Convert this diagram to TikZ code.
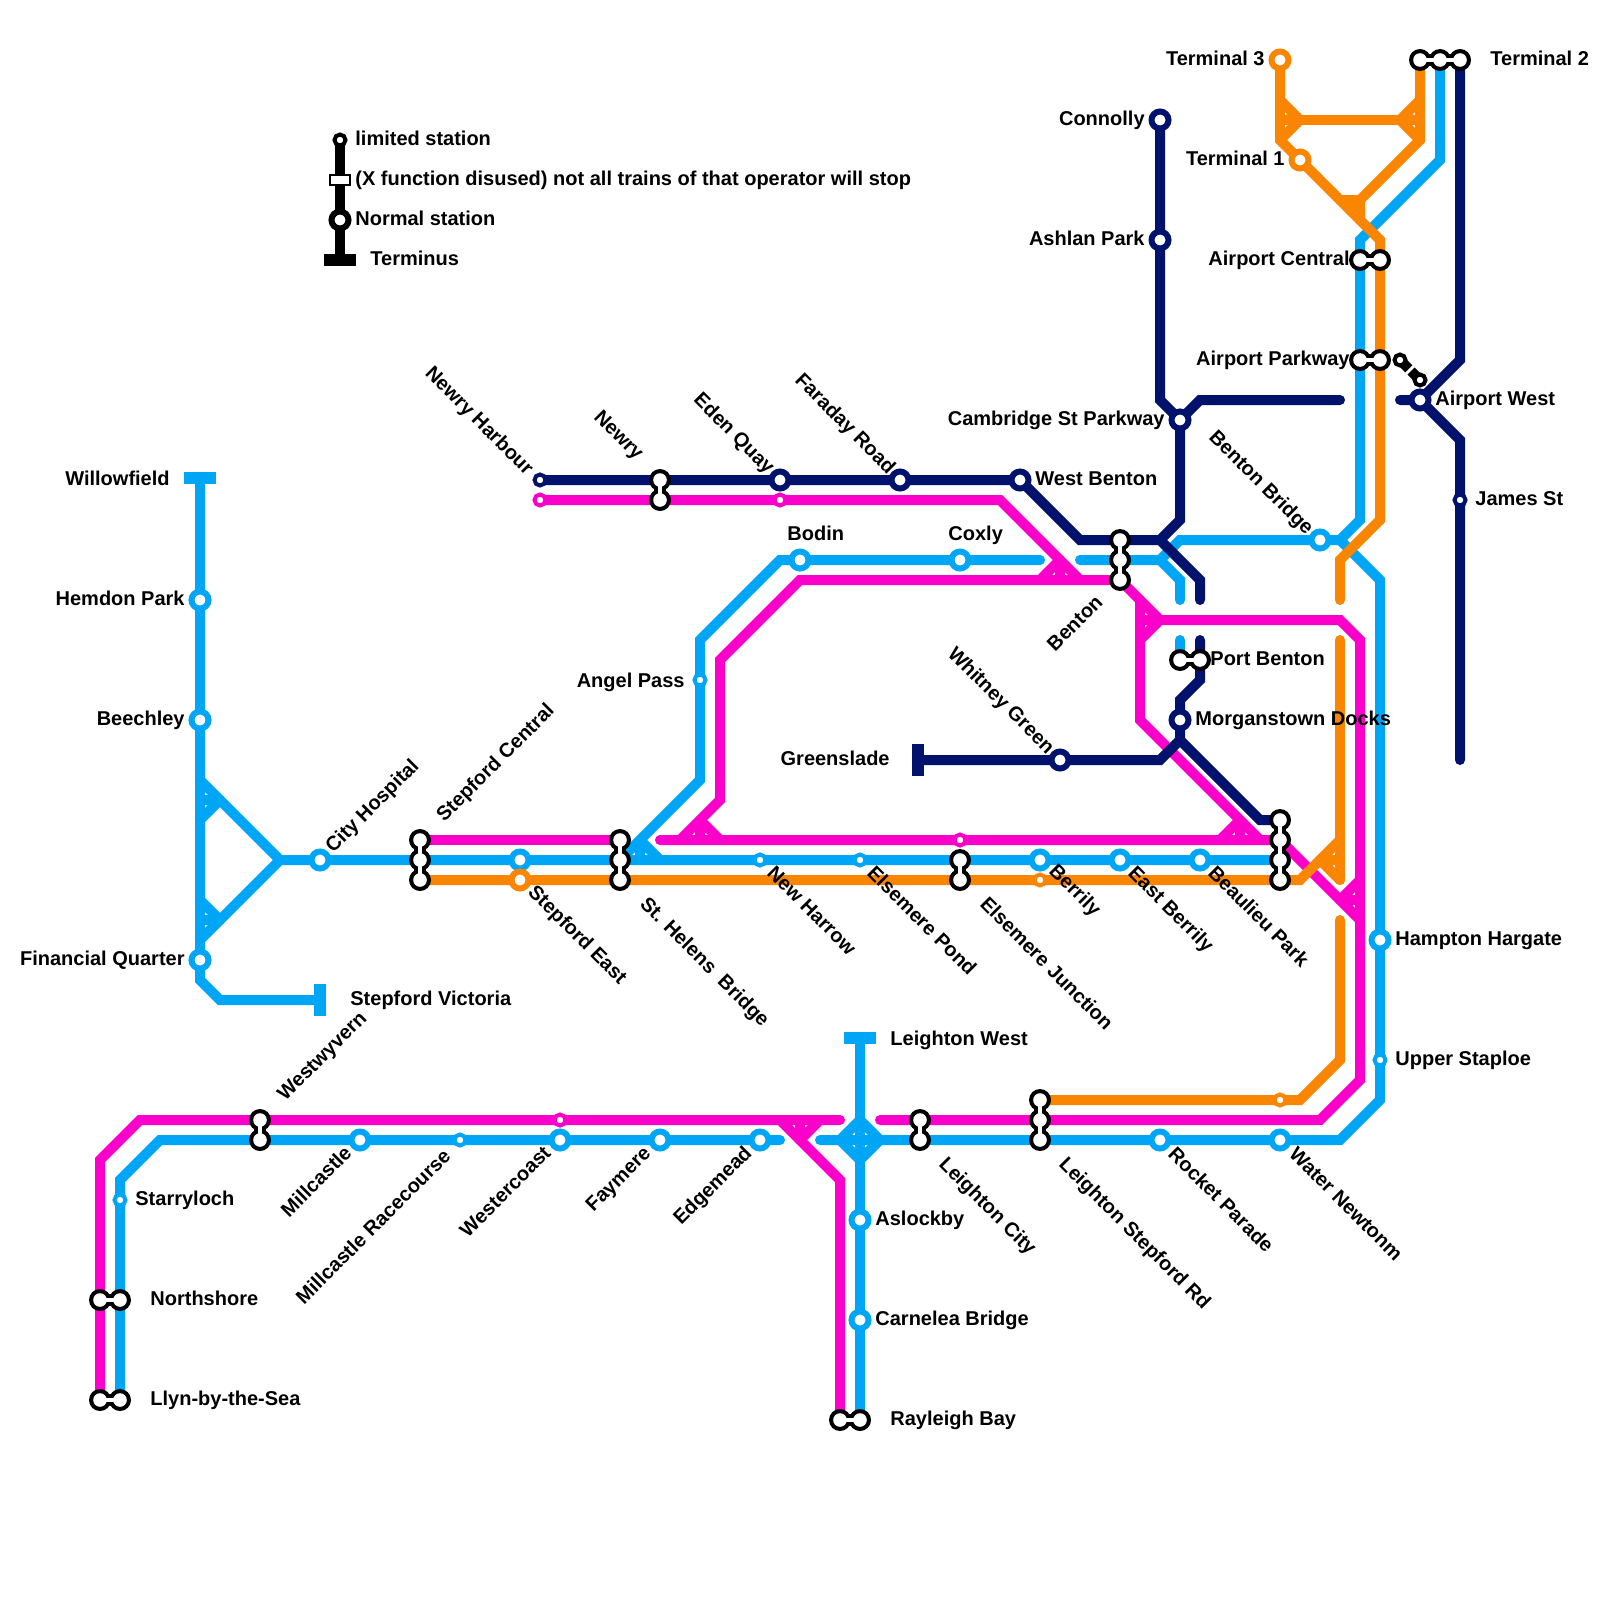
\documentclass[tikz,border=0pt]{standalone}
\usepackage{fontspec}
\setmainfont{Liberation Sans}
\definecolor{cblue}{HTML}{00A6F6}
\definecolor{cmag}{HTML}{FB00CB}
\definecolor{corg}{HTML}{F98500}
\definecolor{cnav}{HTML}{00126B}
\tikzset{
  route/.style={line width=5pt,line cap=round,line join=miter,miter limit=10},
  blueline/.style={route,cblue},
  magline/.style={route,cmag},
  orgline/.style={route,corg},
  navline/.style={route,cnav},
  big/.style={circle,draw=#1,fill=white,line width=3pt,minimum size=8.5pt,inner sep=0pt},
  small/.style={circle,draw=#1,fill=white,line width=2pt,minimum size=5.5pt,inner sep=0pt},
  bar/.style={fill=#1,draw=none,rectangle,inner sep=0pt},
  lb/.style={font=\fontsize{10}{12}\selectfont\bfseries,inner sep=0pt,text=black,text height=7.2pt,text depth=0pt},
  se/.style={lb,anchor=west,xshift=2pt,yshift=-1pt,rotate=-45},
  sw/.style={lb,anchor=east,rotate=-45},
  ne/.style={lb,anchor=west,xshift=1pt,yshift=1.5pt,rotate=45},
  ww/.style={lb,anchor=east,xshift=-2pt,yshift=-0.5pt,rotate=45},
  east/.style={lb,anchor=east},
  west/.style={lb,anchor=west},
}
\newcommand{\xchain}[1]{%
  \foreach \x/\y [remember=\x as \px (initially 0),remember=\y as \py (initially 0),count=\i] in {#1}{%
    \fill[black] (\x,\y) circle (5.5pt);
    \ifnum\i>1 \draw[black,line width=6pt] (\px,\py)--(\x,\y);\fi
  }%
  \foreach \x/\y [remember=\x as \px (initially 0),remember=\y as \py (initially 0),count=\i] in {#1}{%
    \fill[white] (\x,\y) circle (3.4pt);
    \ifnum\i>1 \draw[white,line width=2pt] (\px,\py)--(\x,\y);\fi
  }%
}
\begin{document}
\begin{tikzpicture}[x=0.5pt,y=-0.5pt]
\useasboundingbox (0,0) rectangle (1600,1600);
% blue
\draw[blueline] (200,480)--(200,980)--(220,1000)--(320,1000);
\draw[blueline] (1280,860)--(280,860)--(200,780);
\draw[blueline] (280,860)--(200,940);
\draw[blueline] (200,820)--(220,800) (200,800)--(220,800) (200,900)--(220,920) (200,920)--(220,920);
\draw[blueline] (1040,560)--(780,560)--(700,640)--(700,780)--(620,860);
\draw[blueline] (660,860)--(640,840) (640,840)--(640,860);
\draw[blueline] (1080,560)--(1160,560)--(1180,580)--(1180,600);
\draw[blueline] (1160,560)--(1180,540)--(1340,540)--(1360,520)--(1360,240)--(1440,160)--(1440,60);
\draw[blueline] (1340,540)--(1380,580)--(1380,1100)--(1340,1140)--(820,1140);
\draw[blueline] (1180,640)--(1180,660);
\draw[blueline] (120,1400)--(120,1180)--(160,1140)--(780,1140);
\draw[blueline] (860,1040)--(860,1420);
\draw[blueline] (840,1140)--(860,1120)--(880,1140)--(860,1160)--cycle;
% magenta
\draw[magline] (420,840)--(620,840);
\draw[magline] (660,840)--(1280,840)--(1360,920);
\draw[magline] (680,840)--(700,820) (700,820)--(720,840) (700,820)--(700,840);
\draw[magline] (700,820)--(720,800)--(720,660)--(800,580)--(1120,580)--(1160,620)--(1340,620)--(1360,640)--(1360,1080)--(1320,1120)--(880,1120);
\draw[magline] (540,500)--(1000,500)--(1080,580);
\draw[magline] (1040,580)--(1060,560) (1060,560)--(1060,580);
\draw[magline] (1140,600)--(1140,720)--(1260,840);
\draw[magline] (1140,640)--(1160,620) (1160,620)--(1140,620);
\draw[magline] (1220,840)--(1240,820) (1240,820)--(1240,840);
\draw[magline] (1360,880)--(1340,900) (1340,900)--(1360,900);
\draw[magline] (100,1400)--(100,1160)--(140,1120)--(840,1120);
\draw[magline] (780,1120)--(800,1140) (800,1140)--(820,1120) (800,1120)--(800,1140);
\draw[magline] (800,1140)--(840,1180)--(840,1420);
% orange
\draw[orgline] (420,880)--(1300,880)--(1340,840);
\draw[orgline] (1340,640)--(1340,880);
\draw[orgline] (1340,860)--(1320,860) (1320,860)--(1340,880);
\draw[orgline] (1340,920)--(1340,1060)--(1300,1100)--(1040,1100);
\draw[orgline] (1340,600)--(1340,560)--(1380,520)--(1380,240)--(1280,140)--(1280,60);
\draw[orgline] (1280,100)--(1300,120) (1300,120)--(1280,140) (1280,120)--(1300,120);
\draw[orgline] (1300,120)--(1400,120);
\draw[orgline] (1420,100)--(1400,120) (1400,120)--(1420,140) (1400,120)--(1420,120);
\draw[orgline] (1420,60)--(1420,140)--(1360,200);
\draw[orgline] (1340,200)--(1360,200) (1360,200)--(1360,220) (1360,200)--(1350,210);
% navy
\draw[navline] (540,480)--(1020,480)--(1080,540)--(1160,540)--(1200,580)--(1200,600);
\draw[navline] (1160,120)--(1160,400)--(1180,420)--(1200,400)--(1340,400);
\draw[navline] (1180,420)--(1180,520)--(1160,540);
\draw[navline] (1200,640)--(1200,680)--(1180,700)--(1180,740)--(1260,820)--(1280,820);
\draw[navline] (1180,740)--(1160,760)--(920,760);
\draw[navline] (1400,400)--(1420,400)--(1460,360)--(1460,60);
\draw[navline] (1420,400)--(1460,440)--(1460,760);
% legend line and black link
\draw[line width=5pt,black] (340,140)--(340,260);
\draw[line width=5pt,black,dash pattern=on 6.2pt off 1.6pt] (1400,360)--(1420,380);
% termini
\node[bar=cblue,minimum width=16pt,minimum height=6pt] (tWillow) at (200,478) {};
\node[bar=cblue,minimum width=6pt,minimum height=16pt] (tVictoria) at (320,1000) {};
\node[bar=cblue,minimum width=16pt,minimum height=6pt] (tLeighton) at (860,1038) {};
\node[bar=cnav,minimum width=6pt,minimum height=16pt] (tGreens) at (918,760) {};
\node[bar=black,minimum width=16pt,minimum height=6pt] (tLegend) at (340,260) {};
% stations
\foreach \n/\x/\y/\c in {hemdon/200/600/cblue,beech/200/720/cblue,finq/200/960/cblue,city/320/860/cblue,stE/520/860/cblue,stEo/520/880/corg,berb/1040/860/cblue,eastb/1120/860/cblue,beau/1200/860/cblue,bodin/800/560/cblue,coxly/960/560/cblue,bbridge/1320/540/cblue,hampton/1380/940/cblue,rocket/1160/1140/cblue,water/1280/1140/cblue,mill/360/1140/cblue,westc/560/1140/cblue,fay/660/1140/cblue,edge/760/1140/cblue,aslock/860/1220/cblue,carne/860/1320/cblue,term3/1280/60/corg,term1/1300/160/corg,conn/1160/120/cnav,ashlan/1160/240/cnav,cambs/1180/420/cnav,westb/1020/480/cnav,farad/900/480/cnav,eden/780/480/cnav,morg/1180/720/cnav,whit/1060/760/cnav,awest/1420/400/cnav,legn/340/220/black}{
  \node[big=\c] (\n) at (\x,\y) {};
}
\foreach \n/\x/\y/\c in {angel/700/680/cblue,harrow/760/860/cblue,pond/860/860/cblue,staplo/1380/1060/cblue,starry/120/1200/cblue,race/460/1140/cblue,berrm/1040/880/corg,watero/1280/1100/corg,elsm/960/840/cmag,edenm/780/500/cmag,harbm/540/500/cmag,westm/560/1120/cmag,harbn/540/480/cnav,james/1460/500/cnav,legl/340/140/black,apk1/1400/360/black,apk2/1420/380/black}{
  \node[small=\c] (\n) at (\x,\y) {};
}
\node[rectangle,draw=black,fill=white,line width=1pt,minimum width=10pt,minimum height=5pt,inner sep=0pt] (legx) at (340,180) {};
% interchanges
\xchain{420/840,420/860,420/880}
\xchain{620/840,620/860,620/880}
\xchain{960/860,960/880}
\xchain{1280/820,1280/840,1280/860,1280/880}
\xchain{660/480,660/500}
\xchain{1120/540,1120/560,1120/580}
\xchain{1180/660,1200/660}
\xchain{1360/260,1380/260}
\xchain{1360/360,1380/360}
\xchain{1420/60,1440/60,1460/60}
\xchain{260/1120,260/1140}
\xchain{920/1120,920/1140}
\xchain{1040/1100,1040/1120,1040/1140}
\xchain{100/1300,120/1300}
\xchain{100/1400,120/1400}
\xchain{840/1420,860/1420}
% labels
\node[west] (l1) at (355,138) {limited station};
\node[west] (l2) at (355,178) {(X function disused) not all trains of that operator will stop};
\node[west] (l3) at (355,218) {Normal station};
\node[west] (l4) at (370,258) {Terminus};
\node[east] (a1) at (170,478) {Willowfield};
\node[east] (a2) at (185,598) {Hemdon Park};
\node[east] (a3) at (185,718) {Beechley};
\node[east] (a4) at (185,958) {Financial Quarter};
\node[west] (a5) at (350,998) {Stepford Victoria};
\node[ne] (a6) at (326,852) {City Hospital};
\node[ne] (a7) at (437,821) {Stepford Central};
\node[se] (b1) at (528,886) {Stepford East};
\node[se] (b2) at (640,898) {St. Helens \ Bridge};
\node[se] (b3) at (767,867) {New Harrow};
\node[se] (b4) at (867,867) {Elsemere Pond};
\node[se] (b5) at (980,898) {Elsemere Junction};
\node[se] (b6) at (1049,865) {Berrily};
\node[se] (b7) at (1128,867) {East Berrily};
\node[se] (b8) at (1208,867) {Beaulieu Park};
\node[east] (c1) at (685,680) {Angel Pass};
\node[west] (c2) at (787,533) {Bodin};
\node[west] (c3) at (948,533) {Coxly};
\node[west] (c4) at (1035,478) {West Benton};
\node[west] (c5) at (1210,658) {Port Benton};
\node[west] (c6) at (1195,718) {Morganstown Docks};
\node[east] (c7) at (890,758) {Greenslade};
\node[sw] (c8) at (1052,750) {Whitney Green};
\node[ww] (c9) at (1103,597) {Benton};
\node[sw] (c10) at (1311,531) {Benton Bridge};
\node[sw] (d1) at (893,470) {Faraday Road};
\node[sw] (d2) at (772,470) {Eden Quay};
\node[sw] (d3) at (641,456) {Newry};
\node[sw] (d4) at (531,471) {Newry Harbour};
\node[east] (e1) at (1145,118) {Connolly};
\node[east] (e2) at (1145,238) {Ashlan Park};
\node[east] (e3) at (1165,418) {Cambridge St Parkway};
\node[east] (e4) at (1265,58) {Terminal 3};
\node[east] (e5) at (1285,158) {Terminal 1};
\node[east] (e6) at (1350,258) {Airport Central};
\node[east] (e7) at (1350,358) {Airport Parkway};
\node[west] (e8) at (1435,398) {Airport West};
\node[west] (e9) at (1490,58) {Terminal 2};
\node[west] (e10) at (1475,498) {James St};
\node[west] (e11) at (1395,938) {Hampton Hargate};
\node[west] (e12) at (1395,1058) {Upper Staploe};
\node[west] (f1) at (890,1038) {Leighton West};
\node[ne] (f2) at (278,1100) {Westwyvern};
\node[ww] (f3) at (352,1148) {Millcastle};
\node[ww] (f4) at (451,1151) {Millcastle Racecourse};
\node[ww] (f5) at (551,1148) {Westercoast};
\node[ww] (f6) at (651,1148) {Faymere};
\node[ww] (f7) at (752,1148) {Edgemead};
\node[west] (f8) at (875,1218) {Aslockby};
\node[west] (f9) at (875,1318) {Carnelea Bridge};
\node[west] (f10) at (890,1418) {Rayleigh Bay};
\node[west] (f11) at (150,1298) {Northshore};
\node[west] (f12) at (150,1398) {Llyn-by-the-Sea};
\node[west] (f13) at (135,1198) {Starryloch};
\node[se] (g1) at (939,1158) {Leighton City};
\node[se] (g2) at (1059,1158) {Leighton Stepford Rd};
\node[se] (g3) at (1168,1148) {Rocket Parade};
\node[se] (g4) at (1289,1148) {Water Newtonm};
\end{tikzpicture}
\end{document}
